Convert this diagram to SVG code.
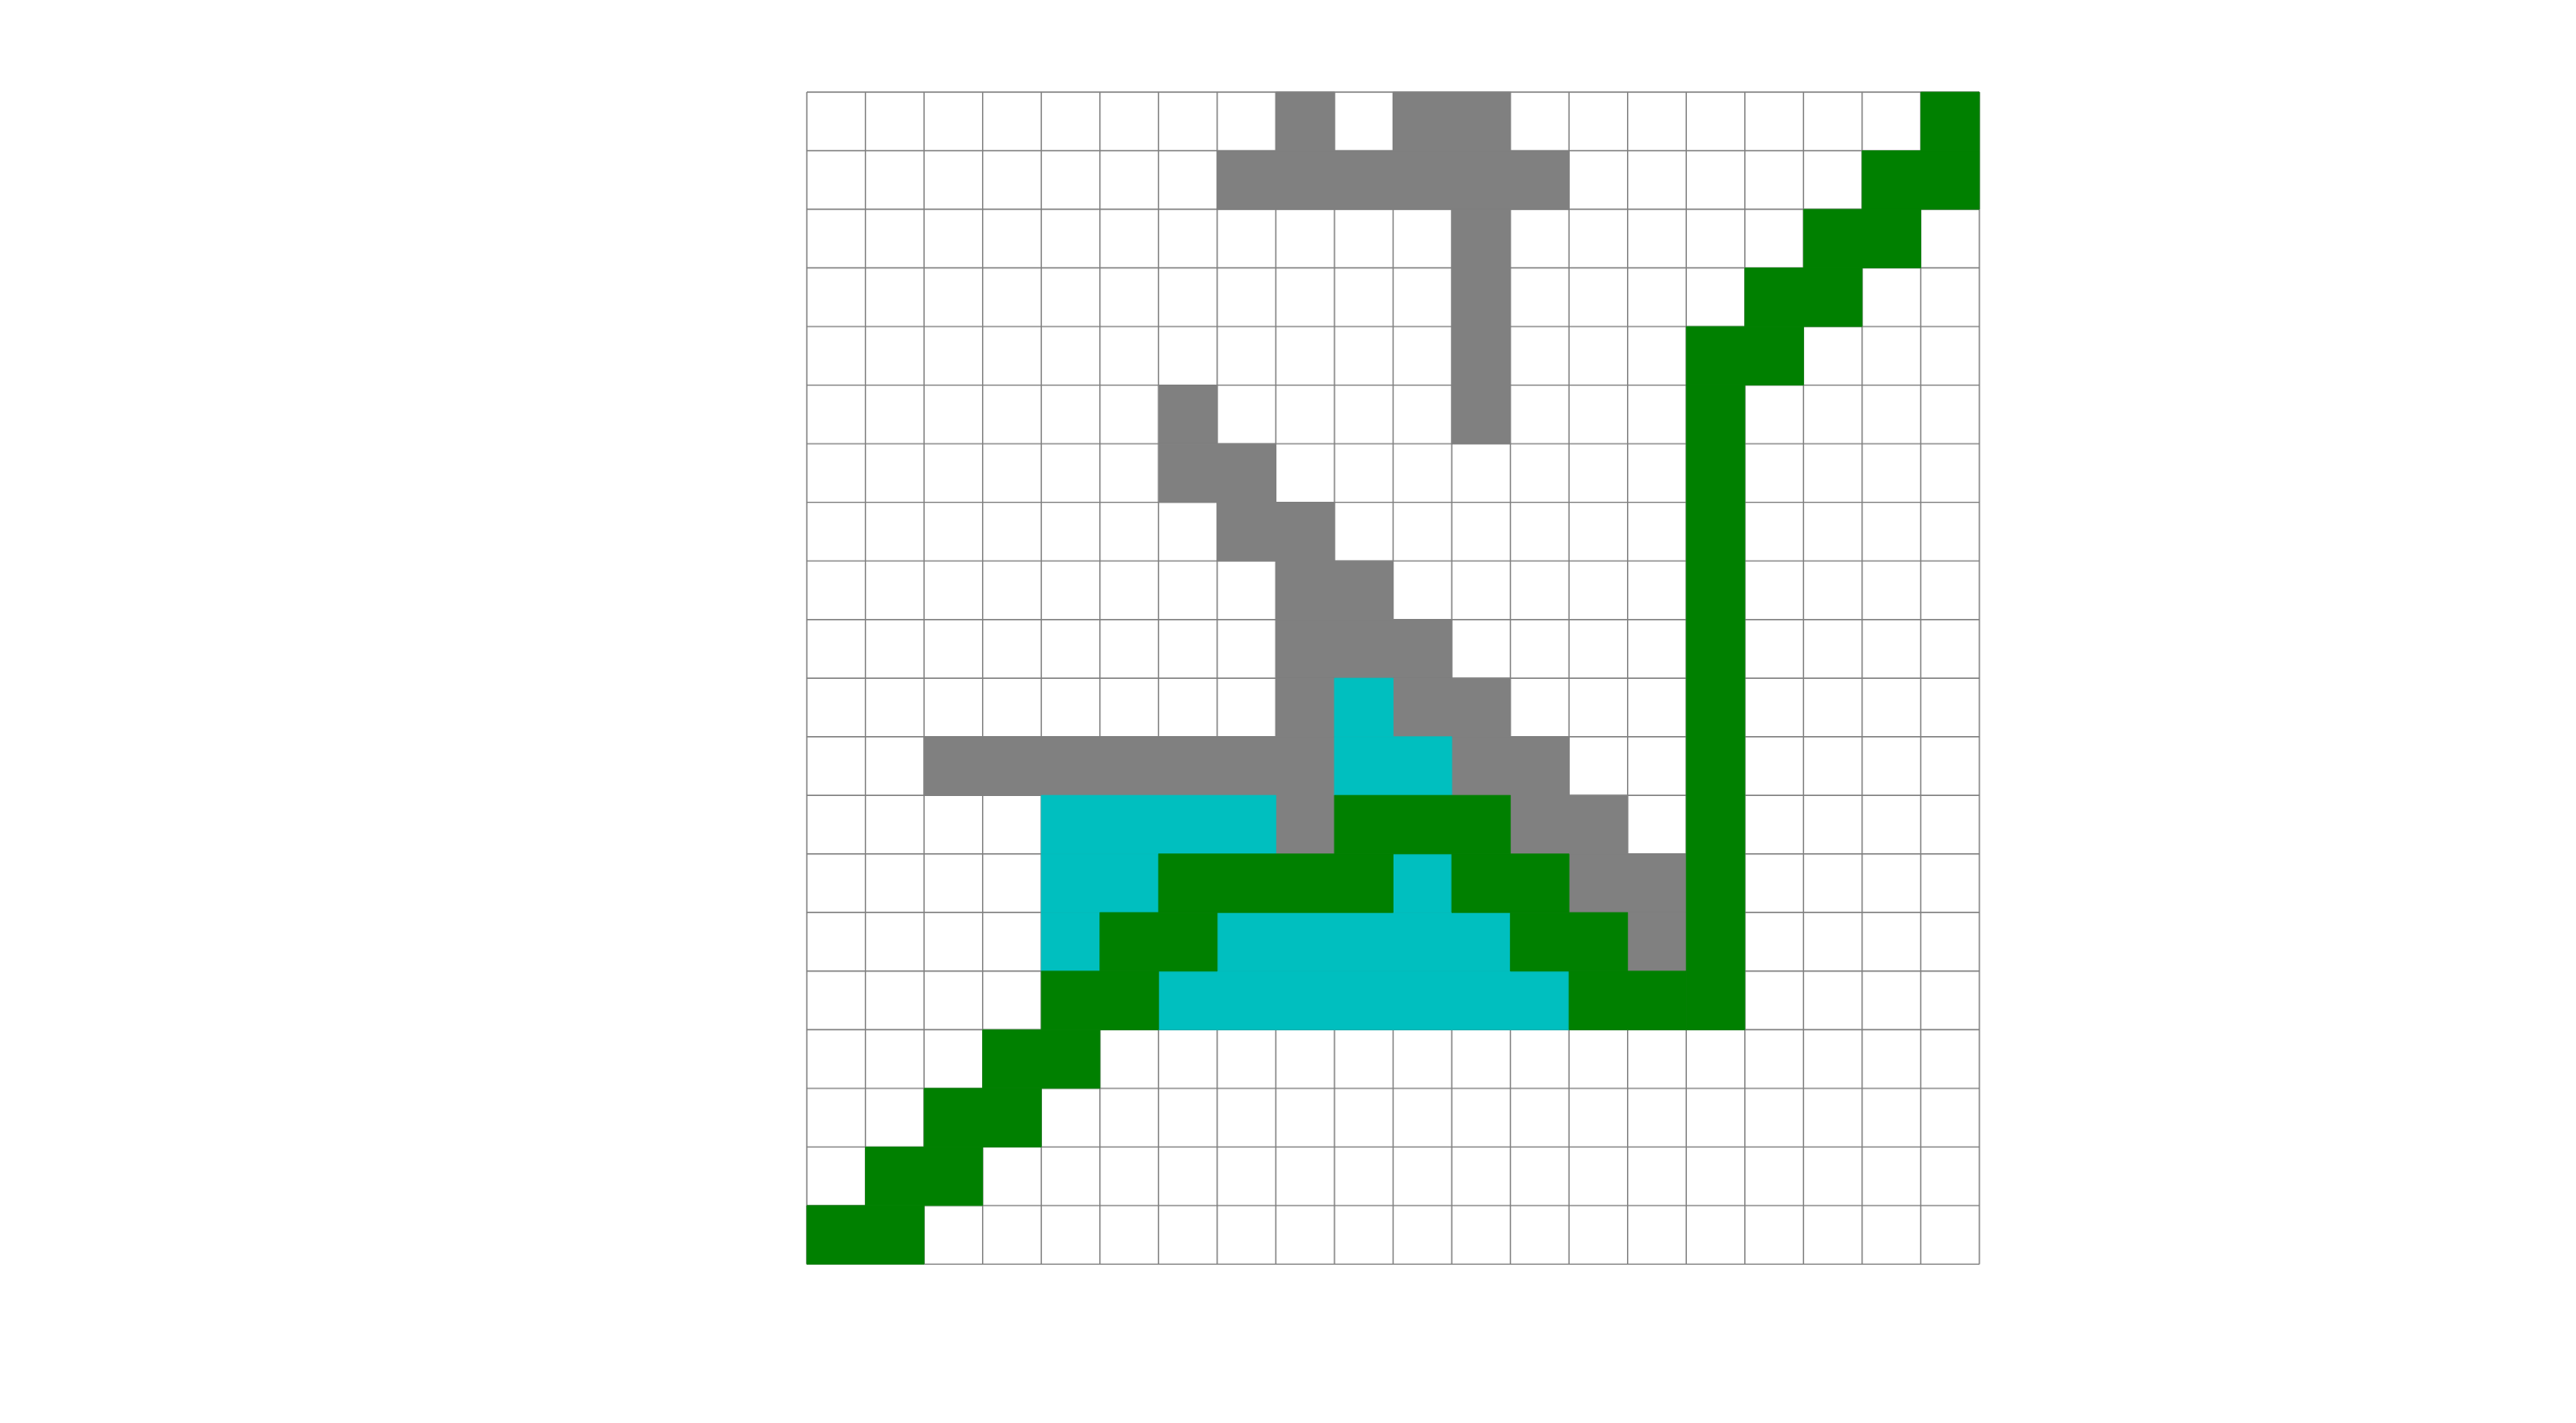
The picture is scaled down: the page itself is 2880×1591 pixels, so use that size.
<svg xmlns="http://www.w3.org/2000/svg" width="2880" height="1591" viewBox="0 0 2880 1591">
<style>
.grid{stroke:#808080;stroke-width:1.4;fill:none}
.g rect{fill:#808080;stroke:#808080;stroke-width:0.8}
.gr rect{fill:#008000;stroke:#008000;stroke-width:0.8}
.cy rect{fill:#00BFBF;stroke:#00BFBF;stroke-width:0.8}
</style>
<rect width="2880" height="1591" fill="#ffffff"/>
<g id="board" transform="translate(902 103) scale(65.55 65.52)">
<g id="grid-lines">
<path class="grid" vector-effect="non-scaling-stroke" d="M0 0V20M1 0V20M2 0V20M3 0V20M4 0V20M5 0V20M6 0V20M7 0V20M8 0V20M9 0V20M10 0V20M11 0V20M12 0V20M13 0V20M14 0V20M15 0V20M16 0V20M17 0V20M18 0V20M19 0V20M20 0V20M0 0H20M0 1H20M0 2H20M0 3H20M0 4H20M0 5H20M0 6H20M0 7H20M0 8H20M0 9H20M0 10H20M0 11H20M0 12H20M0 13H20M0 14H20M0 15H20M0 16H20M0 17H20M0 18H20M0 19H20M0 20H20"/>
</g>
<g id="gray-cells" class="g">
<rect vector-effect="non-scaling-stroke" x="8" y="0" width="1" height="1"/>
<rect vector-effect="non-scaling-stroke" x="10" y="0" width="2" height="1"/>
<rect vector-effect="non-scaling-stroke" x="7" y="1" width="6" height="1"/>
<rect vector-effect="non-scaling-stroke" x="11" y="2" width="1" height="4"/>
<rect vector-effect="non-scaling-stroke" x="6" y="5" width="1" height="1"/>
<rect vector-effect="non-scaling-stroke" x="6" y="6" width="2" height="1"/>
<rect vector-effect="non-scaling-stroke" x="7" y="7" width="2" height="1"/>
<rect vector-effect="non-scaling-stroke" x="8" y="8" width="2" height="1"/>
<rect vector-effect="non-scaling-stroke" x="8" y="9" width="3" height="1"/>
<rect vector-effect="non-scaling-stroke" x="8" y="10" width="1" height="1"/>
<rect vector-effect="non-scaling-stroke" x="10" y="10" width="2" height="1"/>
<rect vector-effect="non-scaling-stroke" x="2" y="11" width="7" height="1"/>
<rect vector-effect="non-scaling-stroke" x="11" y="11" width="2" height="1"/>
<rect vector-effect="non-scaling-stroke" x="8" y="12" width="1" height="1"/>
<rect vector-effect="non-scaling-stroke" x="12" y="12" width="2" height="1"/>
<rect vector-effect="non-scaling-stroke" x="13" y="13" width="2" height="1"/>
<rect vector-effect="non-scaling-stroke" x="14" y="14" width="1" height="1"/>
</g>
<g id="cyan-cells" class="cy">
<rect vector-effect="non-scaling-stroke" x="9" y="10" width="1" height="1"/>
<rect vector-effect="non-scaling-stroke" x="9" y="11" width="2" height="1"/>
<rect vector-effect="non-scaling-stroke" x="4" y="12" width="4" height="1"/>
<rect vector-effect="non-scaling-stroke" x="4" y="13" width="2" height="1"/>
<rect vector-effect="non-scaling-stroke" x="10" y="13" width="1" height="1"/>
<rect vector-effect="non-scaling-stroke" x="4" y="14" width="1" height="1"/>
<rect vector-effect="non-scaling-stroke" x="7" y="14" width="5" height="1"/>
<rect vector-effect="non-scaling-stroke" x="6" y="15" width="7" height="1"/>
</g>
<g id="green-cells" class="gr">
<rect vector-effect="non-scaling-stroke" x="19" y="0" width="1" height="1"/>
<rect vector-effect="non-scaling-stroke" x="18" y="1" width="2" height="1"/>
<rect vector-effect="non-scaling-stroke" x="17" y="2" width="2" height="1"/>
<rect vector-effect="non-scaling-stroke" x="16" y="3" width="2" height="1"/>
<rect vector-effect="non-scaling-stroke" x="15" y="4" width="2" height="1"/>
<rect vector-effect="non-scaling-stroke" x="15" y="5" width="1" height="11"/>
<rect vector-effect="non-scaling-stroke" x="9" y="12" width="3" height="1"/>
<rect vector-effect="non-scaling-stroke" x="6" y="13" width="4" height="1"/>
<rect vector-effect="non-scaling-stroke" x="11" y="13" width="2" height="1"/>
<rect vector-effect="non-scaling-stroke" x="5" y="14" width="2" height="1"/>
<rect vector-effect="non-scaling-stroke" x="12" y="14" width="2" height="1"/>
<rect vector-effect="non-scaling-stroke" x="4" y="15" width="2" height="1"/>
<rect vector-effect="non-scaling-stroke" x="13" y="15" width="2" height="1"/>
<rect vector-effect="non-scaling-stroke" x="3" y="16" width="2" height="1"/>
<rect vector-effect="non-scaling-stroke" x="2" y="17" width="2" height="1"/>
<rect vector-effect="non-scaling-stroke" x="1" y="18" width="2" height="1"/>
<rect vector-effect="non-scaling-stroke" x="0" y="19" width="2" height="1"/>
</g>
</g>
</svg>
